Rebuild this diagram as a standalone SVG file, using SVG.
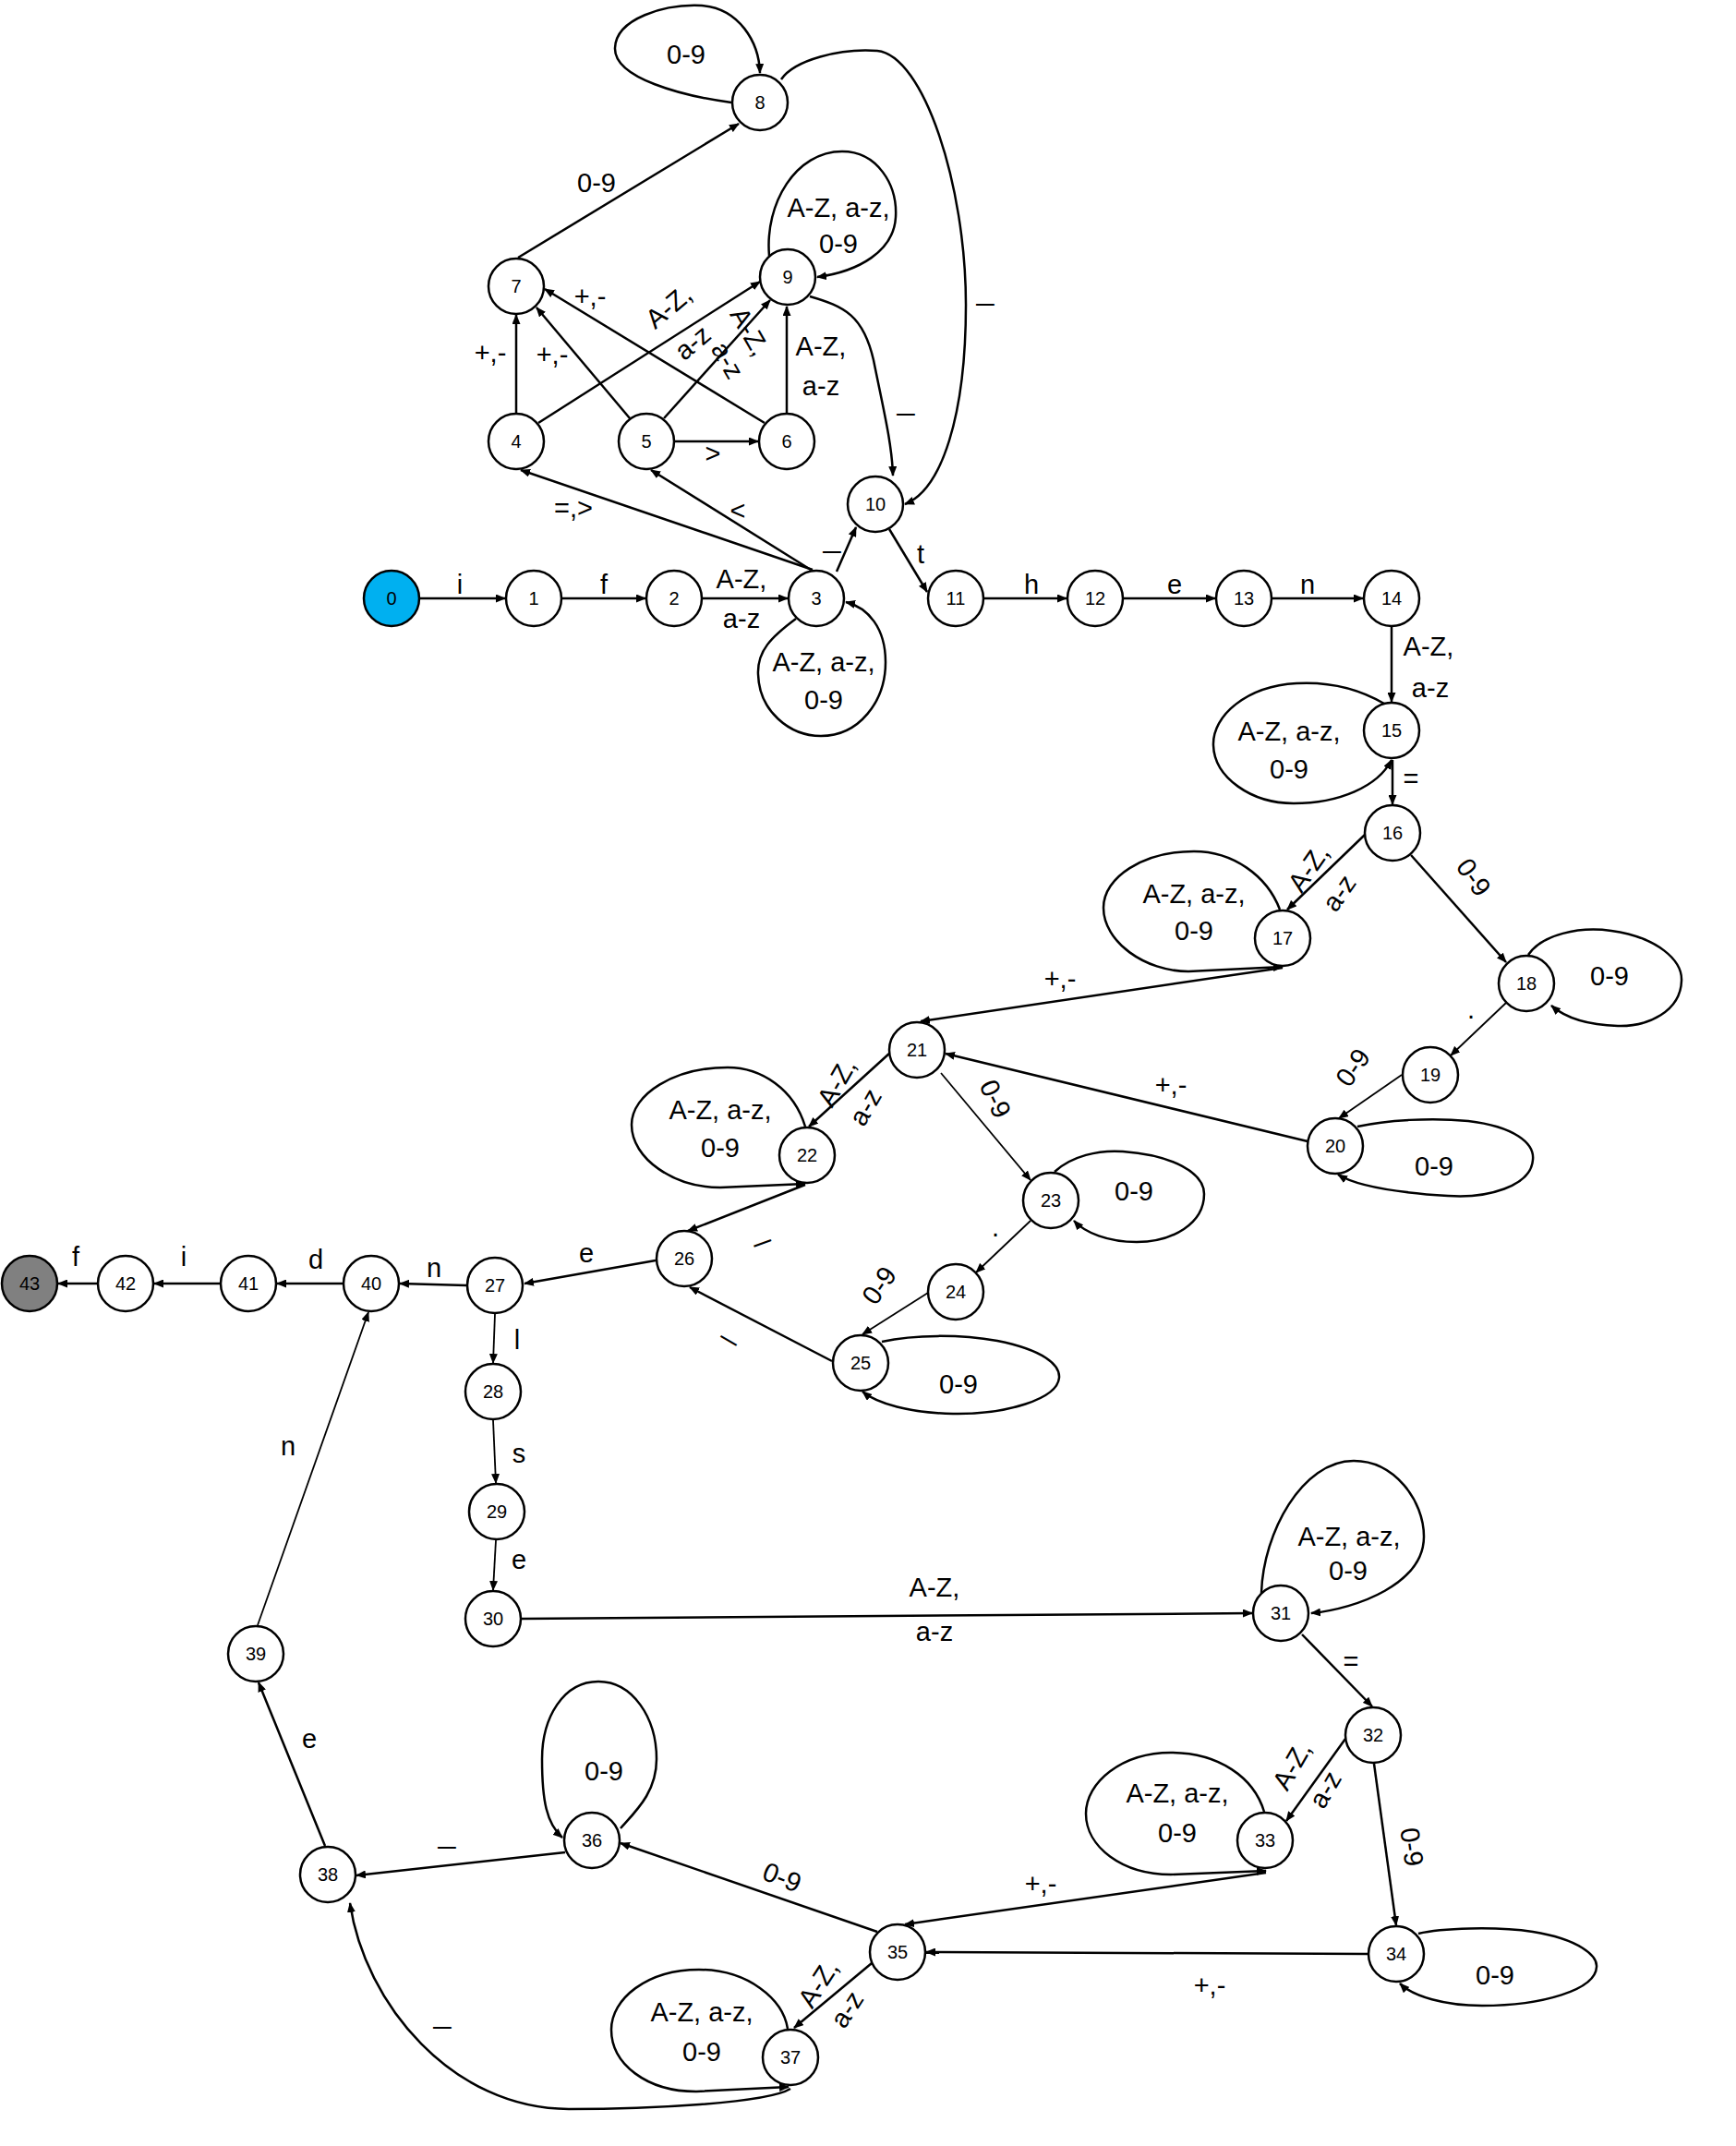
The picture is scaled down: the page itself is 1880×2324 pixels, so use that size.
<svg xmlns="http://www.w3.org/2000/svg" width="1880" height="2324" viewBox="0 0 1880 2324">
<style>
.node circle{fill:#fff;stroke:#000;stroke-width:2.5}
#n0 circle{fill:#00B0F0}
#n43 circle{fill:#808080}
.node text{font-family:'Liberation Sans',Arial,sans-serif;font-size:20px;text-anchor:middle;dominant-baseline:central}
.e{fill:none;stroke:#000;stroke-width:2.5;marker-end:url(#a)}
.t{stroke-width:1.8}
.l{font-family:'Liberation Sans',Arial,sans-serif;font-size:29px;text-anchor:middle;dominant-baseline:central}
.u{dominant-baseline:auto;font-size:34px}
</style>
<defs>
<marker id="a" markerWidth="11" markerHeight="9" refX="10" refY="4.5" orient="auto" markerUnits="userSpaceOnUse"><path d="M0,0 L11,4.5 L0,9 z" fill="#000"/></marker>
</defs>
<rect width="1880" height="2324" fill="#fff"/>
<g id="connectors">
<path class="e" d="M455,648 L547,648"/>
<path class="e" d="M609,648 L699,648"/>
<path class="e" d="M761,648 L853,648"/>
<path class="e" d="M862,670 C835,690 820,705 821,730 C822,770 855,797 889,797 C930,797 959,760 959,717 C959,680 940,658 916,652"/>
<path class="e" d="M880,617 L564,509"/>
<path class="e" d="M878,617 L705,509"/>
<path class="e" d="M906,619 L927,571"/>
<path class="e" d="M559,447 L559,341"/>
<path class="e" d="M583,458 L823,305"/>
<path class="e" d="M682,453 L581,333"/>
<path class="e" d="M719,453 L834,325"/>
<path class="e" d="M731,478 L821,478"/>
<path class="e" d="M828,458 L590,313"/>
<path class="e" d="M852,447 L852,332"/>
<path class="e" d="M561,279 L800,134"/>
<path class="e" d="M792,111 C740,104 665,85 666,52 C667,20 720,4 760,6 C800,9 822,45 823,79"/>
<path class="e" d="M846,86 C860,65 910,52 950,55 C1000,60 1046,200 1046,330 C1046,450 1020,530 980,546"/>
<path class="e" d="M833,277 C828,220 862,164 912,164 C950,164 972,200 970,235 C968,272 930,294 885,300"/>
<path class="e" d="M877,321 C915,332 935,342 946,390 C956,440 966,480 967,515"/>
<path class="e" d="M963,573 L1004,641"/>
<path class="e" d="M1066,648 L1155,648"/>
<path class="e" d="M1217,648 L1316,648"/>
<path class="e" d="M1378,648 L1476,648"/>
<path class="e" d="M1507,679 L1507,760"/>
<path class="e" d="M1499,762 C1470,745 1440,738 1404,740 C1350,743 1313,775 1314,807 C1315,842 1355,870 1401,870 C1450,870 1492,852 1507,823"/>
<path class="e" d="M1508,823 L1508,871"/>
<path class="e" d="M1478,904 L1394,985"/>
<path class="e" d="M1528,926 L1631,1042"/>
<path class="e" d="M1386,985 C1372,948 1335,922 1293,922 C1238,922 1195,950 1195,983 C1195,1020 1240,1052 1287,1052 L1389,1047"/>
<path class="e" d="M1389,1048 L997,1106"/>
<path class="e" d="M1655,1034 C1670,1012 1710,1003 1745,1008 C1795,1015 1822,1040 1821,1062 C1820,1095 1785,1112 1752,1111 C1720,1110 1695,1102 1680,1089"/>
<path class="e t" d="M1631,1086 L1571,1143"/>
<path class="e t" d="M1518,1164 L1450,1211"/>
<path class="e" d="M1470,1220 C1500,1213 1550,1210 1590,1214 C1640,1220 1662,1238 1660,1256 C1658,1285 1610,1298 1568,1295 C1520,1292 1470,1285 1449,1272"/>
<path class="e" d="M1416,1236 L1024,1141"/>
<path class="e" d="M964,1140 L876,1220"/>
<path class="e t" d="M1019,1162 L1116,1278"/>
<path class="e" d="M872,1220 C860,1180 825,1156 788,1156 C730,1156 684,1185 684,1218 C684,1255 730,1286 780,1286 L872,1282"/>
<path class="e" d="M872,1283 L745,1333"/>
<path class="e" d="M1142,1269 C1160,1252 1190,1245 1216,1247 C1270,1251 1304,1270 1304,1293 C1304,1325 1270,1345 1231,1345 C1200,1345 1175,1335 1163,1322"/>
<path class="e t" d="M1116,1322 L1057,1378"/>
<path class="e t" d="M1005,1400 L934,1445"/>
<path class="e" d="M955,1453 C990,1445 1040,1445 1080,1452 C1130,1462 1148,1478 1147,1492 C1145,1515 1090,1532 1032,1531 C985,1530 950,1520 934,1507"/>
<path class="e" d="M901,1474 L747,1394"/>
<path class="e" d="M710,1365 L568,1390"/>
<path class="e" d="M505,1392 L433,1390"/>
<path class="e" d="M371,1390 L300,1390"/>
<path class="e" d="M238,1390 L167,1390"/>
<path class="e" d="M105,1390 L63,1390"/>
<path class="e t" d="M536,1423 L534,1476"/>
<path class="e t" d="M534,1538 L537,1606"/>
<path class="e t" d="M537,1668 L534,1722"/>
<path class="e" d="M565,1753 L1356,1747"/>
<path class="e" d="M1366,1725 C1368,1660 1410,1582 1466,1582 C1510,1582 1542,1625 1542,1664 C1542,1715 1470,1742 1420,1747"/>
<path class="e" d="M1410,1770 L1486,1848"/>
<path class="e" d="M1457,1883 L1393,1972"/>
<path class="e" d="M1488,1910 L1512,2085"/>
<path class="e" d="M1369,1962 C1358,1925 1320,1898 1268,1898 C1215,1898 1176,1930 1176,1964 C1176,2000 1215,2030 1268,2030 L1371,2026"/>
<path class="e" d="M1371,2028 L980,2084"/>
<path class="e" d="M1481,2116 L1003,2114"/>
<path class="e" d="M1536,2094 C1560,2088 1620,2086 1660,2092 C1710,2100 1730,2118 1729,2130 C1728,2155 1670,2172 1605,2172 C1565,2172 1530,2162 1516,2148"/>
<path class="e" d="M950,2092 L672,1996"/>
<path class="e" d="M944,2126 L860,2196"/>
<path class="e" d="M672,1980 C690,1960 711,1940 711,1905 C711,1860 685,1821 648,1821 C610,1821 587,1860 587,1905 C587,1950 592,1975 609,1990"/>
<path class="e" d="M612,2006 L386,2031"/>
<path class="e" d="M853,2197 C848,2165 810,2133 757,2133 C700,2133 662,2165 662,2198 C662,2235 700,2265 754,2265 L854,2260"/>
<path class="e" d="M856,2262 C830,2278 700,2284 616,2284 C490,2284 395,2170 379,2061"/>
<path class="e" d="M352,1999 L280,1822"/>
<path class="e t" d="M279,1760 L399,1421"/>
</g>
<g id="edge-labels" class="l">
<text x="498" y="633">i</text>
<text x="654" y="633">f</text>
<text x="803" y="627">A-Z,</text><text x="803" y="670">a-z</text>
<text x="892" y="717">A-Z, a-z,</text><text x="892" y="758">0-9</text>
<text x="621" y="550">=,&gt;</text>
<text x="799" y="553">&lt;</text>
<text class="u" x="901" y="592">_</text>
<text x="997" y="600">t</text>
<text x="1117" y="633">h</text>
<text x="1272" y="633">e</text>
<text x="1416" y="633">n</text>
<text x="1547" y="700">A-Z,</text><text x="1549" y="745">a-z</text>
<text x="1396" y="792">A-Z, a-z,</text><text x="1396" y="833">0-9</text>
<text x="1528" y="843">=</text>
<text x="1417" y="940" transform="rotate(-55 1417 940)">A-Z,</text>
<text x="1450" y="967" transform="rotate(-55 1450 967)">a-z</text>
<text x="1596" y="950" transform="rotate(55 1596 950)">0-9</text>
<text x="1293" y="968">A-Z, a-z,</text><text x="1293" y="1008">0-9</text>
<text x="1148" y="1060">+,-</text>
<text x="1743" y="1057">0-9</text>
<text x="1593" y="1093">.</text>
<text x="1465" y="1156" transform="rotate(-55 1465 1156)">0-9</text>
<text x="1553" y="1263">0-9</text>
<text x="1268" y="1175">+,-</text>
<text x="906" y="1172" transform="rotate(-60 906 1172)">A-Z,</text>
<text x="937" y="1199" transform="rotate(-60 937 1199)">a-z</text>
<text x="1078" y="1190" transform="rotate(65 1078 1190)">0-9</text>
<text x="780" y="1202">A-Z, a-z,</text><text x="780" y="1243">0-9</text>
<text class="u" x="824" y="1341" transform="rotate(-20 824 1341)">_</text>
<text x="1228" y="1290">0-9</text>
<text x="1078" y="1329">.</text>
<text x="952" y="1392" transform="rotate(-55 952 1392)">0-9</text>
<text x="1038" y="1499">0-9</text>
<text class="u" x="792" y="1447" transform="rotate(30 792 1447)">_</text>
<text x="635" y="1357">e</text>
<text x="470" y="1373">n</text>
<text x="342" y="1364">d</text>
<text x="199" y="1361">i</text>
<text x="82" y="1361">f</text>
<text x="560" y="1451">l</text>
<text x="562" y="1574">s</text>
<text x="562" y="1689">e</text>
<text x="1012" y="1719">A-Z,</text><text x="1012" y="1767">a-z</text>
<text x="312" y="1566">n</text>
<text x="1461" y="1664">A-Z, a-z,</text><text x="1460" y="1701">0-9</text>
<text x="1463" y="1799">=</text>
<text x="1399" y="1912" transform="rotate(-60 1399 1912)">A-Z,</text>
<text x="1435" y="1938" transform="rotate(-60 1435 1938)">a-z</text>
<text x="1529" y="2000" transform="rotate(82 1529 2000)">0-9</text>
<text x="1275" y="1942">A-Z, a-z,</text><text x="1275" y="1985">0-9</text>
<text x="1127" y="2040">+,-</text>
<text x="1619" y="2139">0-9</text>
<text x="1310" y="2150">+,-</text>
<text x="847" y="2033" transform="rotate(22 847 2033)">0-9</text>
<text x="886" y="2148" transform="rotate(-57 886 2148)">A-Z,</text>
<text x="917" y="2176" transform="rotate(-57 917 2176)">a-z</text>
<text x="654" y="1918">0-9</text>
<text class="u" x="484" y="1995">_</text>
<text x="760" y="2179">A-Z, a-z,</text><text x="760" y="2222">0-9</text>
<text class="u" x="479" y="2190">_</text>
<text x="335" y="1883">e</text>
<text x="743" y="59">0-9</text>
<text x="646" y="198">0-9</text>
<text x="908" y="225">A-Z, a-z,</text><text x="908" y="264">0-9</text>
<text class="u" x="1067" y="324">_</text>
<text class="u" x="981" y="443">_</text>
<text x="531" y="382">+,-</text>
<text x="598" y="384">+,-</text>
<text x="639" y="321">+,-</text>
<text x="724" y="332" transform="rotate(-40 724 332)">A-Z,</text>
<text x="750" y="371" transform="rotate(-40 750 371)">a-z</text>
<text x="812" y="359" transform="rotate(60 812 359)">A-Z,</text>
<text x="788" y="390" transform="rotate(60 788 390)">a-z</text>
<text x="889" y="375">A-Z,</text><text x="889" y="418">a-z</text>
<text x="772" y="491">&gt;</text>
</g>
<g id="n0" class="node"><circle cx="424" cy="648" r="30"/><text x="424" y="648">0</text></g>
<g id="n1" class="node"><circle cx="578" cy="648" r="30"/><text x="578" y="648">1</text></g>
<g id="n2" class="node"><circle cx="730" cy="648" r="30"/><text x="730" y="648">2</text></g>
<g id="n3" class="node"><circle cx="884" cy="648" r="30"/><text x="884" y="648">3</text></g>
<g id="n4" class="node"><circle cx="559" cy="478" r="30"/><text x="559" y="478">4</text></g>
<g id="n5" class="node"><circle cx="700" cy="478" r="30"/><text x="700" y="478">5</text></g>
<g id="n6" class="node"><circle cx="852" cy="478" r="30"/><text x="852" y="478">6</text></g>
<g id="n7" class="node"><circle cx="559" cy="310" r="30"/><text x="559" y="310">7</text></g>
<g id="n8" class="node"><circle cx="823" cy="111" r="30"/><text x="823" y="111">8</text></g>
<g id="n9" class="node"><circle cx="853" cy="300" r="30"/><text x="853" y="300">9</text></g>
<g id="n10" class="node"><circle cx="948" cy="546" r="30"/><text x="948" y="546">10</text></g>
<g id="n11" class="node"><circle cx="1035" cy="648" r="30"/><text x="1035" y="648">11</text></g>
<g id="n12" class="node"><circle cx="1186" cy="648" r="30"/><text x="1186" y="648">12</text></g>
<g id="n13" class="node"><circle cx="1347" cy="648" r="30"/><text x="1347" y="648">13</text></g>
<g id="n14" class="node"><circle cx="1507" cy="648" r="30"/><text x="1507" y="648">14</text></g>
<g id="n15" class="node"><circle cx="1507" cy="791" r="30"/><text x="1507" y="791">15</text></g>
<g id="n16" class="node"><circle cx="1508" cy="902" r="30"/><text x="1508" y="902">16</text></g>
<g id="n17" class="node"><circle cx="1389" cy="1016" r="30"/><text x="1389" y="1016">17</text></g>
<g id="n18" class="node"><circle cx="1653" cy="1065" r="30"/><text x="1653" y="1065">18</text></g>
<g id="n19" class="node"><circle cx="1549" cy="1164" r="30"/><text x="1549" y="1164">19</text></g>
<g id="n20" class="node"><circle cx="1446" cy="1241" r="30"/><text x="1446" y="1241">20</text></g>
<g id="n21" class="node"><circle cx="993" cy="1137" r="30"/><text x="993" y="1137">21</text></g>
<g id="n22" class="node"><circle cx="874" cy="1251" r="30"/><text x="874" y="1251">22</text></g>
<g id="n23" class="node"><circle cx="1138" cy="1300" r="30"/><text x="1138" y="1300">23</text></g>
<g id="n24" class="node"><circle cx="1035" cy="1399" r="30"/><text x="1035" y="1399">24</text></g>
<g id="n25" class="node"><circle cx="932" cy="1476" r="30"/><text x="932" y="1476">25</text></g>
<g id="n26" class="node"><circle cx="741" cy="1363" r="30"/><text x="741" y="1363">26</text></g>
<g id="n27" class="node"><circle cx="536" cy="1392" r="30"/><text x="536" y="1392">27</text></g>
<g id="n28" class="node"><circle cx="534" cy="1507" r="30"/><text x="534" y="1507">28</text></g>
<g id="n29" class="node"><circle cx="538" cy="1637" r="30"/><text x="538" y="1637">29</text></g>
<g id="n30" class="node"><circle cx="534" cy="1753" r="30"/><text x="534" y="1753">30</text></g>
<g id="n31" class="node"><circle cx="1387" cy="1747" r="30"/><text x="1387" y="1747">31</text></g>
<g id="n32" class="node"><circle cx="1487" cy="1879" r="30"/><text x="1487" y="1879">32</text></g>
<g id="n33" class="node"><circle cx="1370" cy="1993" r="30"/><text x="1370" y="1993">33</text></g>
<g id="n34" class="node"><circle cx="1512" cy="2116" r="30"/><text x="1512" y="2116">34</text></g>
<g id="n35" class="node"><circle cx="972" cy="2114" r="30"/><text x="972" y="2114">35</text></g>
<g id="n36" class="node"><circle cx="641" cy="1993" r="30"/><text x="641" y="1993">36</text></g>
<g id="n37" class="node"><circle cx="856" cy="2228" r="30"/><text x="856" y="2228">37</text></g>
<g id="n38" class="node"><circle cx="355" cy="2030" r="30"/><text x="355" y="2030">38</text></g>
<g id="n39" class="node"><circle cx="277" cy="1791" r="30"/><text x="277" y="1791">39</text></g>
<g id="n40" class="node"><circle cx="402" cy="1390" r="30"/><text x="402" y="1390">40</text></g>
<g id="n41" class="node"><circle cx="269" cy="1390" r="30"/><text x="269" y="1390">41</text></g>
<g id="n42" class="node"><circle cx="136" cy="1390" r="30"/><text x="136" y="1390">42</text></g>
<g id="n43" class="node"><circle cx="32" cy="1390" r="30"/><text x="32" y="1390">43</text></g>
</svg>
